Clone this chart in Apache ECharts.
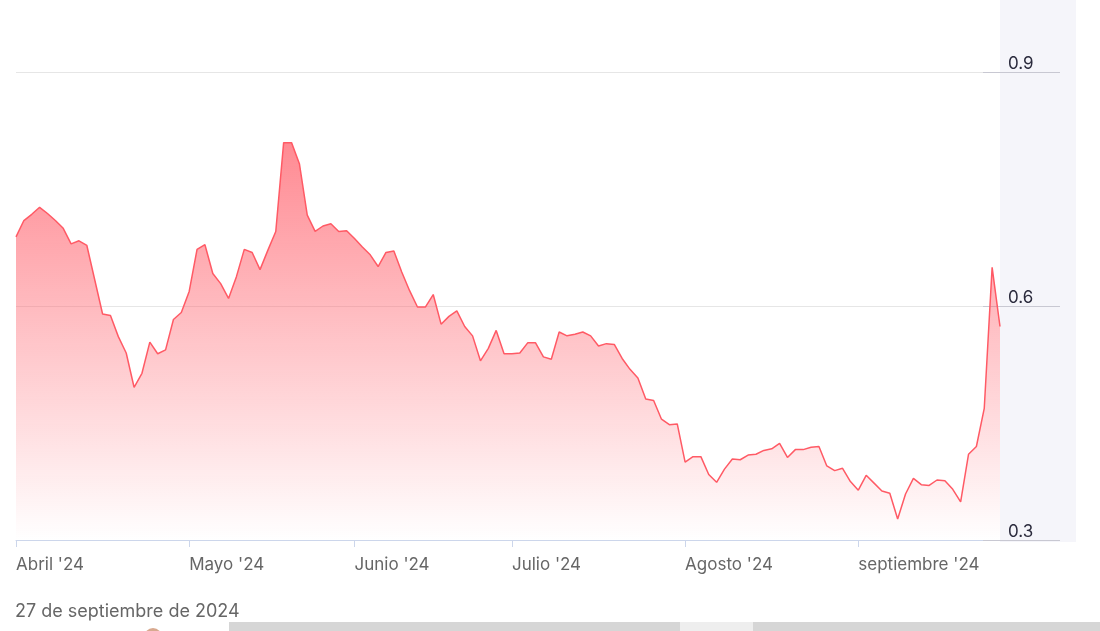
<!DOCTYPE html>
<html>
<head>
<meta charset="utf-8">
<script src="https://cdn.jsdelivr.net/npm/echarts@6/dist/echarts.min.js"></script>
<style>
html,body{margin:0;padding:0;background:#fff;}
#chart{width:1100px;height:631px;}
</style>
</head>
<body>
<div id="chart"></div>
<script>
// Trading days (day of month) per month, 2024
const aprDays = [1,2,3,4,5,8,9,10,11,12,15,16,17,18,19,22,23,24,25,26,29,30];
const mayDays = [2,3,6,7,8,9,10,13,14,15,16,17,20,21,22,23,24,28,29,30,31];
const junDays = [3,4,5,6,7,10,11,12,13,14,17,18,19,20,21,24,25,26,27,28];
const julDays = [1,2,3,5,8,9,10,11,12,15,16,17,18,19,22,23,24,25,26,29,30,31];
const augDays = [1,2,5,6,7,8,9,12,13,14,15,16,19,20,21,22,23,26,27,28,29,30];
const sepDays = [3,4,5,6,9,10,11,12,13,16,17,18,19,20,23,24,25,26,27];

const monthNames = ["Abril '24","Mayo '24","Junio '24","Julio '24","Agosto '24","septiembre '24"];
const yTicks = [0.3, 0.6, 0.9];
const dateLabel = "27 de septiembre de 2024";

const values = [
  0.689,0.710,0.718,0.727,0.719,0.710,0.700,0.680,0.684,0.678,
  0.634,0.590,0.588,0.561,0.540,0.496,0.514,0.554,0.539,0.544,
  0.583,0.592,0.619,0.673,0.679,0.642,0.629,0.610,0.638,0.673,
  0.669,0.647,0.672,0.696,0.810,0.810,0.783,0.717,0.696,0.703,
  0.706,0.696,0.697,0.687,0.676,0.666,0.651,0.669,0.671,0.644,
  0.620,0.599,0.599,0.615,0.577,0.587,0.594,0.574,0.562,0.530,
  0.546,0.569,0.539,0.539,0.540,0.553,0.553,0.535,0.532,0.567,
  0.562,0.564,0.567,0.562,0.549,0.552,0.551,0.533,0.519,0.508,
  0.481,0.479,0.455,0.448,0.449,0.400,0.407,0.407,0.384,0.374,
  0.391,0.404,0.403,0.409,0.410,0.415,0.417,0.424,0.406,0.416,
  0.416,0.419,0.420,0.395,0.389,0.392,0.375,0.364,0.383,0.373,
  0.363,0.360,0.327,0.359,0.379,0.371,0.370,0.377,0.376,0.365,
  0.349,0.410,0.420,0.469,0.650,0.574
];

const months = [aprDays, mayDays, junDays, julDays, augDays, sepDays];
const categories = [];
const monthStart = {};
months.forEach((days, m) => {
  days.forEach((d, k) => {
    const key = '2024-' + String(m + 4).padStart(2, '0') + '-' + String(d).padStart(2, '0');
    if (k === 0) monthStart[categories.length] = monthNames[m];
    categories.push(key);
  });
});

const chart = echarts.init(document.getElementById('chart'));
const FONT = 'Inter, "Noto Sans", sans-serif';
chart.setOption({
  animation: false,
  grid: { left: 16, right: 100, top: 72.5, bottom: 91, containLabel: false },
  graphic: [
    { type: 'rect', z: -10, silent: true, shape: { x: 1000, y: 0, width: 76, height: 542 }, style: { fill: '#f5f5fa' } },
    { type: 'text', left: 15, top: 603, style: { text: dateLabel, fill: '#666666', font: '18px ' + FONT } },
    { type: 'rect', silent: true, shape: { x: 229, y: 622, width: 451, height: 9 }, style: { fill: '#d6d6d6' } },
    { type: 'rect', silent: true, shape: { x: 680, y: 622, width: 73, height: 9 }, style: { fill: '#eeeeee' } },
    { type: 'rect', silent: true, shape: { x: 753, y: 622, width: 347, height: 9 }, style: { fill: '#d6d6d6' } },
    { type: 'circle', silent: true, shape: { cx: 153, cy: 637, r: 9 }, style: { fill: '#d8a98f' } }
  ],
  xAxis: {
    type: 'category',
    data: categories,
    boundaryGap: false,
    axisLine: { lineStyle: { color: '#ccd6eb', width: 1 } },
    axisTick: {
      show: true, length: 7, lineStyle: { color: '#ccd6eb' },
      interval: (i) => monthStart[i] !== undefined
    },
    axisLabel: {
      interval: (i) => monthStart[i] !== undefined,
      formatter: (v, i) => monthStart[i] || '',
      align: 'left', margin: 16, color: '#666666', fontSize: 17, fontFamily: FONT
    },
    splitLine: { show: false }
  },
  yAxis: {
    type: 'value',
    position: 'right',
    offset: 60,
    min: yTicks[0], max: yTicks[yTicks.length - 1], interval: 0.3,
    axisLine: { show: false },
    axisTick: { show: true, inside: true, length: 77, lineStyle: { color: '#c8c8d2' } },
    axisLabel: {
      margin: -52, color: '#2b2b3d', fontSize: 17, fontFamily: FONT,
      verticalAlign: 'bottom', padding: [0, 0, 0, 0],
      showMinLabel: true, showMaxLabel: true,
      formatter: (v) => v.toFixed(1)
    },
    splitLine: { show: true, lineStyle: { color: '#e6e6e6', width: 1 } }
  },
  series: [{
    type: 'line',
    data: values,
    symbol: 'none',
    lineStyle: { color: '#ff5a65', width: 1.5 },
    areaStyle: {
      opacity: 1,
      color: new echarts.graphic.LinearGradient(0, 0, 0, 1, [
        { offset: 0, color: 'rgba(255,99,110,0.75)' },
        { offset: 1, color: 'rgba(255,99,110,0)' }
      ])
    }
  }]
});
</script>
</body>
</html>
